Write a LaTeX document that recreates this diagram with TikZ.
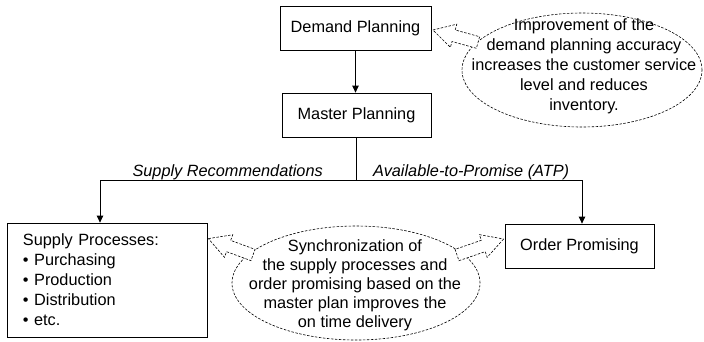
\documentclass[tikz,border=0pt]{standalone}
\usepackage{fontspec}
\setmainfont{Liberation Sans}
\usetikzlibrary{arrows.meta,shapes.geometric,calc}
\begin{document}
\begin{tikzpicture}[x=1pt,y=-1pt,
  font=\fontsize{16.3}{20}\selectfont,
  box/.style={draw, line width=0.8pt, inner sep=0pt, fill=white},
  bubble/.style={ellipse, draw, line width=0.6pt, dash pattern=on 2.5pt off 1.5pt, fill=white, inner sep=0pt},
  calloutarrow/.style={draw, fill=white, line width=0.6pt, dash pattern=on 2.5pt off 1.5pt, line join=miter},
  conn/.style={line width=0.8pt, -{Triangle[length=7pt,width=6.5pt]}},
  plainline/.style={line width=0.8pt},
  lab/.style={font=\fontsize{16.3}{20}\selectfont\itshape, inner sep=0pt},
  bubbletext/.style={align=center, inner sep=0pt}
]
\useasboundingbox (0,0) rectangle (704,341);

% boxes
\node[box, minimum width=151pt, minimum height=44pt] (dp) at (355.5,28) {Demand Planning};
\node[box, minimum width=149pt, minimum height=44pt] (mp) at (356.5,115) {Master Planning};
\node[box, minimum width=200pt, minimum height=114pt, align=left, text width=168pt] (sp) at (107,280)
  {Supply Processes:\\• Purchasing\\• Production\\• Distribution\\• etc.};
\node[box, minimum width=149pt, minimum height=44pt] (op) at (579.5,246) {Order Promising};

% connectors
\draw[conn] (dp.south) -- (dp.south |- mp.north);
\coordinate (j) at ($(mp.south)+(0,43)$);
\draw[plainline] (mp.south) -- (j);
\coordinate (spin) at ($(sp.north)+(-7,0)$);
\coordinate (opin) at ($(op.north)+(2.5,0)$);
\draw[conn] (j) -| (spin);
\draw[conn] (j) -| (opin);

% labels
\node[lab, anchor=base east] (sr) at (323,176) {Supply Recommendations};
\node[lab, anchor=base west] (atp) at (373,176) {Available-to-Promise (ATP)};

% bubbles
\node[bubble, minimum width=240pt, minimum height=114pt] (e1) at (582,70) {};
\node[bubble, minimum width=248pt, minimum height=114pt] (e2) at (356,283) {};

% callout arrows
\coordinate (T1) at ($(dp.east)+(1.5,2)$);
\coordinate (B1) at (478,42.5);
\coordinate (T2) at ($(sp.north east)+(1,16)$);
\coordinate (B2) at (253,255);
\coordinate (T3) at ($(op.west)+(-1,-7)$);
\coordinate (B3) at (457,255);
\foreach \t/\b in {T1/B1,T2/B2,T3/B3}{
  \coordinate (h) at ($(\t)!21.5pt!(\b)$);
  \draw[calloutarrow] (\t) -- ($(h)!12pt!90:(\b)$) -- ($(h)!6pt!90:(\b)$)
    -- ($(\b)!6pt!-90:(\t)$) -- ($(\b)!6pt!90:(\t)$)
    -- ($(h)!6pt!-90:(\b)$) -- ($(h)!12pt!-90:(\b)$) -- cycle;
}

% bubble texts
\node[bubbletext] (t1) at (584,66) {Improvement of the\\demand planning accuracy\\increases the customer service\\level and reduces\\inventory.};
\node[bubbletext, font=\fontsize{16.3}{19}\selectfont] (t2) at (355,285.5) {Synchronization of\\the supply processes and\\order promising based on the\\master plan improves the\\on time delivery};
\end{tikzpicture}
\end{document}
